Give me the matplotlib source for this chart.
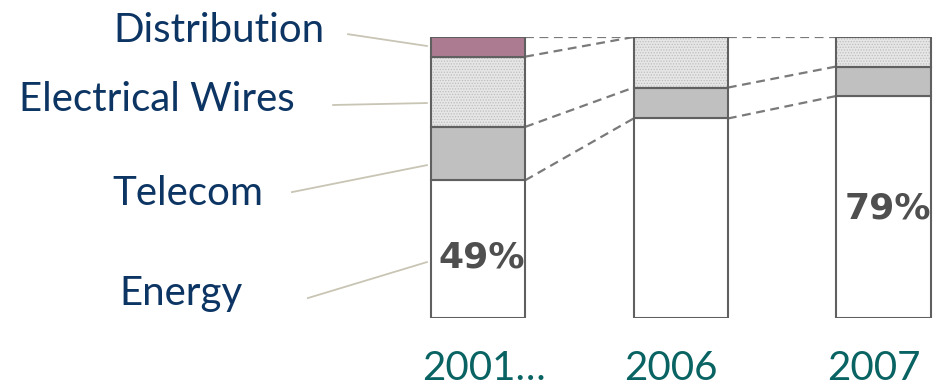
import matplotlib
matplotlib.use("Agg")
import matplotlib.pyplot as plt
import numpy as np

# ---- data ----
years = ["2001…", "2006", "2007"]
series = ["Energy", "Telecom", "Electrical Wires", "Distribution"]
energy = [49, 71, 79]
telecom = [19, 11, 10.5]
wires = [25, 18, 10.5]
distribution = [7, 0, 0]
pct_labels = ["49%", None, "79%"]

# ---- style ----
fills = {"Energy": "#ffffff", "Telecom": "#c0c0c0",
         "Electrical Wires": "#e6e6e6", "Distribution": "#ad7b91"}
edge = "#606060"
label_col = "#0d3563"
year_col = "#0a6363"
leader_col = "#c9c5b5"

plt.rcParams["hatch.linewidth"] = 0.6
plt.rcParams["hatch.color"] = "#b5b5b5"

fig = plt.figure(figsize=(9.42, 3.86), dpi=100)
ax = fig.add_axes([0, (386 - 318) / 386, 1, 281 / 386])
unit = 202.7
ax.set_xlim(-478 / unit, (942 - 478) / unit)
ax.set_ylim(0, 100)
ax.axis("off")

x = np.arange(len(years))
w = 0.465
vals = {"Energy": energy, "Telecom": telecom,
        "Electrical Wires": wires, "Distribution": distribution}
bottom = np.zeros(len(years))
tops = {}
for s in series:
    v = np.array(vals[s], dtype=float)
    mask = v > 0
    if s == "Electrical Wires":
        ax.bar(x[mask], v[mask], w, bottom=bottom[mask], color=fills[s],
               hatch="......", edgecolor="#bdbdbd", linewidth=0, zorder=2)
        ax.bar(x[mask], v[mask], w, bottom=bottom[mask], fill=False,
               edgecolor=edge, linewidth=1.5, zorder=3)
    else:
        ax.bar(x[mask], v[mask], w, bottom=bottom[mask], color=fills[s],
               edgecolor=edge, linewidth=1.5, zorder=3)
    bottom = bottom + v
    tops[s] = bottom.copy()

# dashed connectors between cumulative tops
for i in range(len(years) - 1):
    for s in series:
        a, b = tops[s][i], tops[s][i + 1]
        if i == 1 and s == "Distribution":
            continue
        ax.plot([x[i] + w / 2, x[i + 1] - w / 2], [a, b], ls=(0, (4, 2.5)),
                color="#7a7a7a", lw=1.6, zorder=1)

# percent labels
pct_y = [21.7, None, 39.1]
for i, t in enumerate(pct_labels):
    if t:
        ax.text(x[i] + 0.02, pct_y[i], t, ha="center", va="center",
                fontsize=26, fontweight="bold", color="#4f4f4f",
                family="DejaVu Sans", zorder=4)

# left labels with leader lines
lab_text = {"Distribution": (-0.755, 98.2), "Electrical Wires": (-0.903, 73.7),
            "Telecom": (-1.061, 40.2), "Energy": (-1.159, 4.6)}
lead = {"Distribution": ((-0.641, 101.0), 96.8),
        "Electrical Wires": ((-0.715, 75.8), 76.5),
        "Telecom": ((-0.918, 44.8), 54.4),
        "Energy": ((-0.839, 7.1), 19.9)}
for s in series:
    tx, ty = lab_text[s]
    ax.text(tx, ty, s, ha="right", va="baseline", fontsize=29,
            color=label_col, family="Lato", clip_on=False)
    (sx, sy), ey = lead[s]
    ax.plot([sx, -0.252], [sy, ey], color=leader_col, lw=1.3, clip_on=False)

# year labels
for i, yl in enumerate(years):
    ax.text(x[i] - w / 2 - 0.045, -22.0, yl, ha="left", va="baseline",
            fontsize=29, color=year_col, family="Lato", clip_on=False)

fig.savefig("out.png", dpi=100)
